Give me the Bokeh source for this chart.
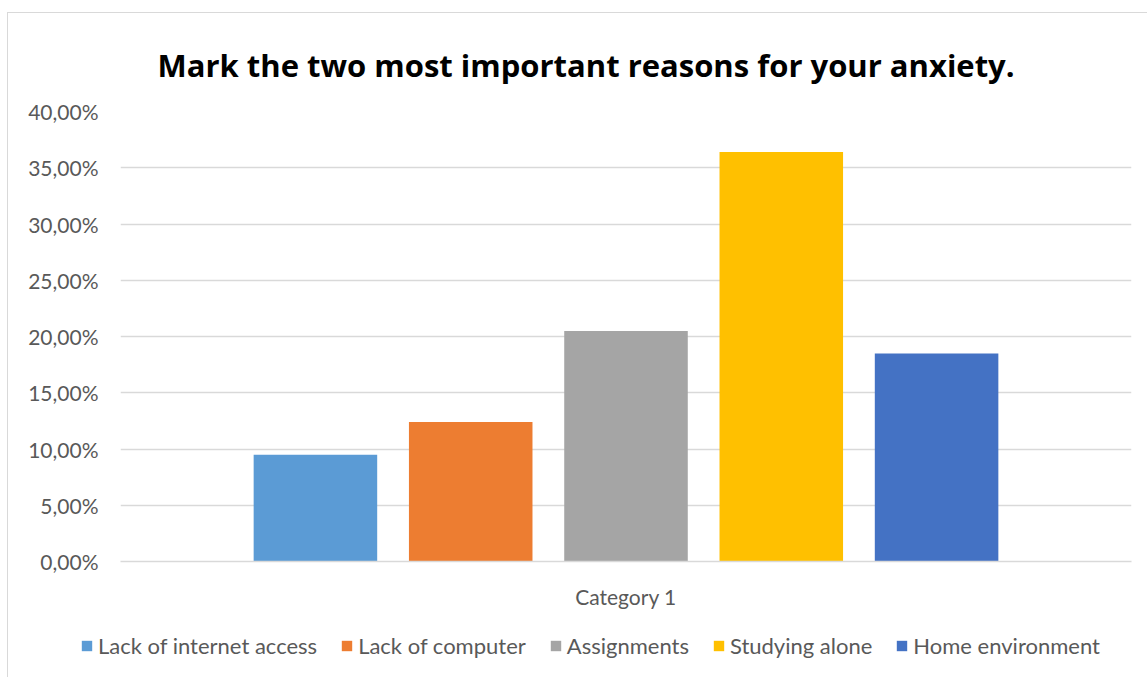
from bokeh.plotting import figure
from bokeh.layouts import column
from bokeh.models import (FactorRange, FixedTicker, CustomJSTickFormatter,
                          Legend, LegendItem, Range1d)
from bokeh.transform import dodge
from bokeh.embed import file_html
from bokeh.resources import INLINE

# ---- data ----
category = ["Category 1"]
series = ["Lack of internet access", "Lack of computer", "Assignments",
          "Studying alone", "Home environment"]
values = [9.5, 12.4, 20.5, 36.4, 18.5]          # percent
colors = ["#5B9BD5", "#ED7D31", "#A5A5A5", "#FFC000", "#4472C4"]
y_ticks = [0, 5, 10, 15, 20, 25, 30, 35, 40]
title_text = "Mark the two most important reasons for your anxiety."

FONT = "Lato"
TXT = "#595959"

# ---- main chart ----
p = figure(width=1139, height=602, x_range=FactorRange(factors=category),
           y_range=Range1d(0, 40), output_backend="svg", toolbar_location=None,
           min_border_left=112, min_border_right=16, min_border_top=98,
           min_border_bottom=54, title=title_text)
p.frame_align = False
p.outline_line_color = None
p.background_fill_color = "white"
p.border_fill_color = "white"

p.title.text_font = "Open Sans"
p.title.text_font_style = "bold"
p.title.text_font_size = "31px"
p.title.text_color = "#000000"
p.title.align = "left"
p.title.offset = 37
p.title.vertical_align = "bottom"
p.title.standoff = 52

step = 0.1536
bw = 0.1222
for i, (name, v, c) in enumerate(zip(series, values, colors)):
    src = {"cat": category, "val": [v]}
    p.vbar(x=dodge("cat", (i - 2) * step, range=p.x_range), top="val", bottom=0,
           width=bw, source=src, fill_color=c, line_color=None, name=name)

p.yaxis.ticker = FixedTicker(ticks=y_ticks)
p.yaxis.formatter = CustomJSTickFormatter(
    code="return tick.toFixed(2).replace('.', ',') + '%';")
p.yaxis.axis_line_color = None
p.yaxis.major_tick_line_color = None
p.yaxis.minor_tick_line_color = None
p.yaxis.major_tick_out = 0
p.yaxis.major_tick_in = 0
p.yaxis.major_label_standoff = 22
p.yaxis.major_label_text_font = FONT
p.yaxis.major_label_text_font_size = "21px"
p.yaxis.major_label_text_color = TXT

p.xaxis.axis_line_color = "#d9d9d9"
p.xaxis.axis_line_width = 1.5
p.xaxis.major_tick_line_color = None
p.xaxis.minor_tick_line_color = None
p.xaxis.major_tick_out = 0
p.xaxis.major_tick_in = 0
p.xaxis.major_label_standoff = 22
p.xaxis.major_label_text_font = FONT
p.xaxis.major_label_text_font_size = "21px"
p.xaxis.major_label_text_color = TXT

p.xgrid.grid_line_color = None
p.ygrid.grid_line_color = "#d9d9d9"
p.ygrid.grid_line_width = 1.5

# ---- legend strip (hidden copies of the series provide the legend swatches) ----
q = figure(width=1139, height=62, x_range=FactorRange(factors=category),
           y_range=Range1d(0, 40), output_backend="svg", toolbar_location=None,
           min_border=0, x_axis_location=None, y_axis_location=None)
q.frame_align = False
q.outline_line_color = None
q.xgrid.grid_line_color = None
q.ygrid.grid_line_color = None
items = []
for i, (name, v, c) in enumerate(zip(series, values, colors)):
    src = {"cat": category, "val": [v]}
    r = q.vbar(x=dodge("cat", (i - 2) * step, range=q.x_range), top="val", bottom=0,
               width=bw, source=src, fill_color=c, line_color=None, visible=False)
    items.append(LegendItem(label=name, renderers=[r]))
legend = Legend(items=items, orientation="horizontal", location=(72, 18),
                glyph_width=13, glyph_height=13, label_standoff=5, spacing=23,
                padding=0, margin=0, border_line_color=None,
                background_fill_alpha=0, click_policy="none",
                label_text_font=FONT, label_text_font_size="22px",
                label_text_color=TXT)
q.add_layout(legend, "center")

layout = column(p, q, spacing=0)
layout.styles = {"border-top": "1px solid #d9d9d9", "border-left": "1px solid #d9d9d9",
                 "margin-top": "12px", "margin-left": "7px"}

open("out.html", "w").write(file_html(layout, INLINE))
